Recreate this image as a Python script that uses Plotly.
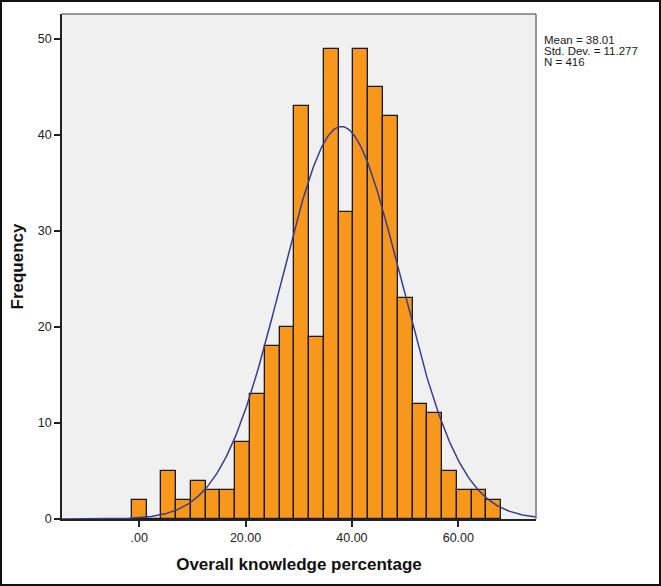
import numpy as np
import plotly.graph_objects as go

# Histogram bins (bin width = 100/36 percent), centres and counts
bin_centers = [0.00, 2.78, 5.56, 8.33, 11.11, 13.89, 16.67, 19.44, 22.22, 25.00,
               27.78, 30.56, 33.33, 36.11, 38.89, 41.67, 44.44, 47.22, 50.00,
               52.78, 55.56, 58.33, 61.11, 63.89, 66.67]
counts = [2, 0, 5, 2, 4, 3, 3, 8, 13, 18,
          20, 43, 19, 49, 32, 49, 45, 42, 23,
          12, 11, 5, 3, 3, 2]
bin_width = 100 / 36

mean_val = 38.01
std_val = 11.277
n_val = 416
stats_lines = ["Mean = 38.01", "Std. Dev. = 11.277", "N = 416"]

x_tickvals = [0, 20, 40, 60]
x_ticktext = [".00", "20.00", "40.00", "60.00"]
y_tickvals = [0, 10, 20, 30, 40, 50]

x_range = [-14.5, 74.6]
y_range = [0, 52.6]

# fitted normal curve
xc = np.linspace(x_range[0], x_range[1], 400)
yc = n_val * bin_width / (std_val * np.sqrt(2 * np.pi)) * np.exp(-0.5 * ((xc - mean_val) / std_val) ** 2)

fig = go.Figure()
fig.add_trace(go.Bar(
    x=bin_centers, y=counts, width=bin_width,
    marker=dict(color="#f7981d", line=dict(color="#1a1a1a", width=1.3)),
    showlegend=False, hoverinfo="x+y"))
fig.add_trace(go.Scatter(
    x=xc, y=yc, mode="lines", line=dict(color="#3b3b8f", width=1.5),
    showlegend=False, hoverinfo="skip"))

W, H = 661, 586
L, R, T, B = 62, 125, 14, 67
pw, ph = W - L - R, H - T - B

def px(xp):
    return (xp - L) / pw

def py(yp):
    return (H - B - yp) / ph

annots = []
for i, line in enumerate(stats_lines):
    annots.append(dict(xref="paper", yref="paper", x=px(542), y=py(40 + 11 * i),
                       xanchor="left", yanchor="middle", align="left", showarrow=False,
                       text=line, font=dict(size=11.5, color="#1a1a1a")))

fig.update_layout(
    width=W, height=H,
    margin=dict(l=L, r=R, t=T, b=B),
    paper_bgcolor="white",
    plot_bgcolor="#f0f0f0",
    font=dict(family="Liberation Sans, Arial, sans-serif", color="#222222", size=12.5),
    bargap=0,
    xaxis=dict(
        range=x_range, tickvals=x_tickvals, ticktext=x_ticktext,
        ticks="outside", ticklen=6, tickwidth=1.5, tickcolor="#222222",
        showgrid=False, zeroline=False,
        showline=True, linecolor="#222222", linewidth=1.5, mirror=False,
        title=dict(text="<b>Overall knowledge percentage</b>",
                   font=dict(size=17, color="#111111"), standoff=14),
    ),
    yaxis=dict(
        range=y_range, tickvals=y_tickvals,
        ticks="outside", ticklen=6, tickwidth=1.5, tickcolor="#222222",
        showgrid=False, zeroline=False,
        showline=True, linecolor="#222222", linewidth=1.5,
        title=dict(text="<b>Frequency</b>", font=dict(size=17, color="#111111"), standoff=10),
    ),
    shapes=[
        # top/right plot frame
        dict(type="line", xref="paper", yref="paper", x0=0, x1=1, y0=1, y1=1,
             line=dict(color="#777777", width=1.5)),
        dict(type="line", xref="paper", yref="paper", x0=1, x1=1, y0=0, y1=1,
             line=dict(color="#777777", width=1.5)),
        # outer image border
        dict(type="rect", xref="paper", yref="paper",
             x0=px(1), x1=px(W - 1), y0=py(H - 1), y1=py(1),
             line=dict(color="#111111", width=2), layer="above"),
    ],
    annotations=annots,
)

fig.write_html("out.html",
               config={"displayModeBar": False},
               post_script="document.body.style.margin='0';document.body.style.overflow='hidden';")
